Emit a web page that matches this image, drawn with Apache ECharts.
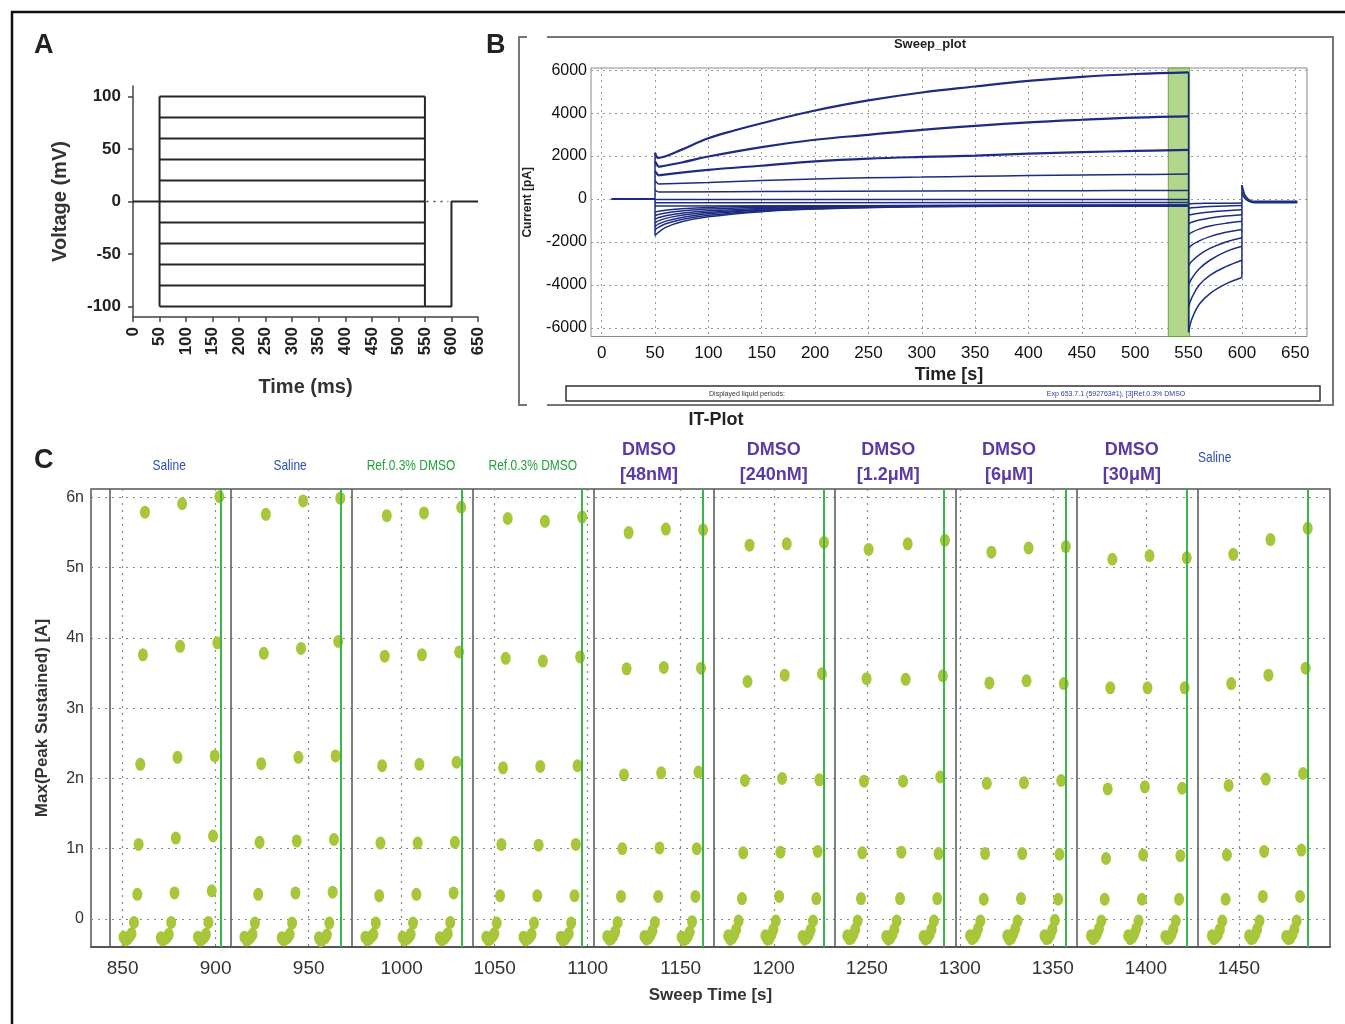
<!DOCTYPE html>
<html><head><meta charset="utf-8">
<script src="https://cdn.jsdelivr.net/npm/echarts@6/dist/echarts.min.js"></script>
<style>html,body{margin:0;padding:0;background:#fff;}#chart{width:1345px;height:1024px;}</style>
</head><body><div id="chart"></div>
<script>
// ================= DATA =================
// ---- Panel A: voltage protocol ----
const aLevels = [100, 80, 60, 40, 20, 0, -20, -40, -60, -80, -100];   // mV
const aPhaseTimes = [0, 50, 550, 600, 650];                           // hold, step on, step off, tail off, end (ms)
const aTailLevel = -100;
const aHoldLevel = 0;
const aXTicks = [0,50,100,150,200,250,300,350,400,450,500,550,600,650];
const aYTicks = [-100, -50, 0, 50, 100];

// ---- Panel B: sweep plot (time s, current pA) ----
const bXTicks = [0,50,100,150,200,250,300,350,400,450,500,550,600,650];
const bYTicks = [-6000,-4000,-2000,0,2000,4000,6000];
const bWashWindow = [531, 551];
const bBaseline = [[9,0],[50,0]];
const bStepP100 = [[50,2150],[52,1900],[60,1990],[75,2300],[100,2830],[125,3200],[150,3530],[200,4120],[250,4590],[300,4960],[350,5240],[400,5500],[450,5690],[500,5820],[550,5900]];
const bStepP80  = [[50,1750],[53,1500],[75,1700],[100,1980],[150,2420],[200,2760],[250,2990],[300,3220],[350,3410],[400,3570],[450,3690],[500,3790],[550,3850]];
const bStepP60  = [[50,1300],[53,1100],[100,1360],[150,1550],[200,1750],[250,1880],[300,1960],[350,2020],[400,2110],[450,2180],[500,2240],[550,2290]];
const bStepP40  = [[50,850],[53,700],[100,770],[150,860],[200,930],[250,990],[300,1020],[350,1060],[400,1090],[450,1120],[500,1140],[550,1160]];
const bStepP20  = [[50,400],[53,330],[150,350],[300,370],[450,390],[550,400]];
const bStep0    = [[50,-20],[550,-20]];
const bStepM20  = [[50,-170],[550,-160]];
const bStepN1   = [[50,-320],[550,-290]];
const bStepN2   = [[50,-620],[52,-576],[60,-520],[75,-450],[100,-390],[150,-340],[200,-320],[300,-300],[550,-290]];
const bStepN3   = [[50,-780],[52,-730],[60,-650],[75,-560],[100,-470],[150,-390],[200,-350],[300,-310],[550,-295]];
const bStepN4   = [[50,-950],[52,-886],[60,-780],[75,-660],[100,-550],[150,-440],[200,-380],[300,-320],[550,-300]];
const bStepN5   = [[50,-1110],[52,-1040],[60,-900],[75,-760],[100,-620],[150,-480],[200,-400],[300,-330],[550,-305]];
const bStepN6   = [[50,-1280],[52,-1195],[60,-1030],[75,-860],[100,-690],[150,-520],[200,-420],[300,-340],[550,-310]];
const bStepN7   = [[50,-1440],[52,-1350],[60,-1150],[75,-950],[100,-760],[150,-560],[200,-450],[300,-350],[550,-315]];
const bStepN8   = [[50,-1700],[52,-1600],[60,-1320],[75,-1060],[100,-830],[150,-590],[200,-470],[300,-360],[550,-320]];
const bTail1  = [[550,-6200],[553,-5600],[560,-4900],[570,-4400],[585,-3950],[600,-3650]];
const bTail2  = [[550,-5000],[553,-4600],[560,-4000],[570,-3550],[585,-3150],[600,-2850]];
const bTail3  = [[550,-4000],[553,-3700],[560,-3250],[570,-2850],[585,-2450],[600,-2200]];
const bTail4  = [[550,-3100],[553,-2900],[560,-2600],[570,-2300],[585,-2000],[600,-1800]];
const bTail5  = [[550,-2300],[553,-2150],[560,-1950],[570,-1750],[585,-1550],[600,-1420]];
const bTail6  = [[550,-1650],[553,-1550],[560,-1400],[570,-1260],[585,-1130],[600,-1040]];
const bTail7  = [[550,-1150],[553,-1080],[560,-980],[570,-880],[585,-790],[600,-730]];
const bTail8  = [[550,-760],[553,-720],[560,-660],[570,-600],[585,-540],[600,-500]];
const bTail9  = [[550,-430],[553,-410],[560,-380],[570,-350],[585,-320],[600,-300]];
const bTail10 = [[550,-220],[553,-215],[560,-205],[570,-200],[585,-195],[600,-190]];
const bPost1 = [[600,650],[601,420],[603,150],[606,-20],[610,-110],[630,-120],[652,-120]];
const bPost2 = [[600,300],[602,80],[606,-100],[612,-170],[652,-170]];

// ---- Panel C: IT plot (sweep time s, current nA) ----
const cXTicks = [850,900,950,1000,1050,1100,1150,1200,1250,1300,1350,1400,1450];
const cYTicks = [0,1,2,3,4,5,6];
const cSegmentBounds = [843,908,973,1038,1103,1168,1233,1298,1363,1428];
const cWashMarks = [902.5,967,1032.5,1097,1162,1227,1291.5,1357,1422,1487];
const cSegmentLabels = ['Saline','Saline','Ref.0.3% DMSO','Ref.0.3% DMSO','DMSO\n[48nM]','DMSO\n[240nM]','DMSO\n[1.2μM]','DMSO\n[6μM]','DMSO\n[30μM]','Saline'];
const cLabelTimes = [875,940,1005,1070.5,1133,1200,1261.5,1326.5,1392.5,1437];
const cSweepLevels = [-100,-80,-60,-40,-20,0,20,40,60,80,100];
const cSweepOffsets = [-11.5,-10.4,-9.3,-8.2,-7.2,-5.9,-4.1,-3.4,-2.5,-1.1,0];
const cGroupTimes = [862,882,902, 927,947,967, 992,1012,1032, 1057,1077,1097, 1122,1142,1162, 1187,1207,1227, 1251,1272,1292, 1317,1337,1357, 1382,1402,1422, 1447,1467,1487];
const cM100 = [-0.26,-0.27,-0.26, -0.26,-0.27,-0.27, -0.26,-0.26,-0.27, -0.26,-0.26,-0.26, -0.25,-0.25,-0.26, -0.24,-0.24,-0.25, -0.24,-0.25,-0.25, -0.24,-0.24,-0.24, -0.24,-0.24,-0.25, -0.24,-0.24,-0.25];
const cM80  = [-0.30,-0.30,-0.30, -0.30,-0.30,-0.31, -0.30,-0.30,-0.30, -0.30,-0.30,-0.30, -0.29,-0.29,-0.30, -0.29,-0.29,-0.29, -0.28,-0.29,-0.29, -0.28,-0.29,-0.28, -0.28,-0.28,-0.28, -0.28,-0.28,-0.28];
const cM60  = [-0.28,-0.28,-0.29, -0.29,-0.28,-0.29, -0.28,-0.28,-0.28, -0.28,-0.28,-0.29, -0.28,-0.27,-0.28, -0.27,-0.28,-0.27, -0.27,-0.27,-0.27, -0.26,-0.27,-0.27, -0.26,-0.26,-0.27, -0.26,-0.27,-0.27];
const cM40  = [-0.25,-0.26,-0.26, -0.26,-0.26,-0.27, -0.25,-0.26,-0.25, -0.25,-0.26,-0.25, -0.24,-0.23,-0.25, -0.22,-0.22,-0.23, -0.22,-0.22,-0.22, -0.21,-0.21,-0.22, -0.21,-0.21,-0.22, -0.22,-0.22,-0.22];
const cM20  = [-0.21,-0.22,-0.22, -0.22,-0.22,-0.23, -0.22,-0.22,-0.21, -0.21,-0.22,-0.21, -0.18,-0.17,-0.19, -0.15,-0.15,-0.16, -0.15,-0.15,-0.15, -0.14,-0.14,-0.15, -0.14,-0.14,-0.15, -0.15,-0.15,-0.15];
const c0    = [-0.05,-0.05,-0.05, -0.06,-0.06,-0.06, -0.06,-0.06,-0.05, -0.06,-0.06,-0.06, -0.05,-0.05,-0.04, -0.03,-0.03,-0.03, -0.03,-0.03,-0.03, -0.03,-0.03,-0.02, -0.03,-0.03,-0.03, -0.03,-0.03,-0.03];
const cP20  = [0.35,0.37,0.40, 0.35,0.37,0.38, 0.33,0.35,0.37, 0.33,0.33,0.33, 0.32,0.32,0.32, 0.29,0.32,0.29, 0.29,0.29,0.29, 0.28,0.29,0.28, 0.28,0.28,0.28, 0.28,0.32,0.32];
const cP40  = [1.06,1.15,1.18, 1.09,1.11,1.13, 1.08,1.08,1.09, 1.06,1.05,1.06, 1.00,1.01,1.00, 0.94,0.95,0.96, 0.94,0.95,0.93, 0.93,0.93,0.92, 0.86,0.91,0.90, 0.91,0.96,0.98];
const cP60  = [2.20,2.30,2.32, 2.21,2.30,2.32, 2.18,2.20,2.23, 2.15,2.17,2.18, 2.05,2.08,2.09, 1.97,2.00,1.98, 1.96,1.96,2.02, 1.93,1.94,1.97, 1.85,1.88,1.86, 1.90,1.99,2.07];
const cP80  = [3.76,3.88,3.93, 3.78,3.85,3.95, 3.74,3.76,3.80, 3.71,3.67,3.73, 3.56,3.58,3.57, 3.38,3.47,3.49, 3.42,3.41,3.46, 3.36,3.39,3.35, 3.29,3.29,3.29, 3.35,3.47,3.57];
const cP100 = [5.79,5.91,6.01, 5.76,5.95,5.99, 5.74,5.78,5.86, 5.70,5.66,5.72, 5.50,5.55,5.54, 5.32,5.34,5.36, 5.26,5.34,5.39, 5.22,5.28,5.30, 5.12,5.17,5.14, 5.19,5.40,5.56];

// ================= CHART =================
const FONT = '"Liberation Sans", Arial, Helvetica, sans-serif';
const NARROW = '"Liberation Sans Narrow", "Arial Narrow", "Liberation Sans", sans-serif';
const NAVY = '#1d2c82';
const plain = v => String(v);
const chart = echarts.init(document.getElementById('chart'));

function line(data, idx, color, width, extra) {
  return Object.assign({type:'line', xAxisIndex:idx, yAxisIndex:idx, data:data, symbol:'none', showSymbol:false,
    silent:true, animation:false, lineStyle:{color:color, width:width}, z:3}, extra || {});
}
const curve = {smooth:0.4};
const series = [];

// Panel A
const [tHold, tOn, tOff, tTail, tEnd] = aPhaseTimes;
const aMax = Math.max(...aLevels), aMin = Math.min(...aLevels);
aLevels.forEach(v => series.push(line([[tOn, v], [tOff, v]], 0, '#262626', 2)));
series.push(line([[tOn, aMin], [tOn, aMax]], 0, '#262626', 2));
series.push(line([[tOff, aMin], [tOff, aMax]], 0, '#262626', 2));
series.push(line([[tHold, aHoldLevel], [tOn, aHoldLevel]], 0, '#262626', 2));
series.push(line([[tOff, aTailLevel], [tTail, aTailLevel], [tTail, aHoldLevel], [tEnd, aHoldLevel]], 0, '#262626', 2));
series.push(line([[tOff + 3, aHoldLevel], [tTail - 6, aHoldLevel]], 0, '#444', 1.5, {lineStyle:{color:'#444', width:1.5, type:[2,5]}}));

// Panel B
const bSteps = [bStepP100,bStepP80,bStepP60,bStepP40,bStepP20,bStep0,bStepM20,bStepN1,bStepN2,bStepN3,bStepN4,bStepN5,bStepN6,bStepN7,bStepN8];
const bTails = [bTail1,bTail2,bTail3,bTail4,bTail5,bTail6,bTail7,bTail8,bTail9,bTail10];
series.push(line(bBaseline, 1, NAVY, 2, {markArea:{silent:true, itemStyle:{color:'#b2d68c', borderColor:'#62a845', borderWidth:1},
  data:[[{xAxis:bWashWindow[0]}, {xAxis:bWashWindow[1]}]]}, z:2}));
bSteps.forEach((d, i) => {
  // initial capacitive spike drawn straight, the slow relaxation drawn as a smooth curve
  series.push(line(d.slice(0, 2), 1, NAVY, i < 3 ? 2.2 : 1.5));
  series.push(line(d.slice(1), 1, NAVY, i < 3 ? 2.2 : 1.5, curve));
});
bTails.forEach(d => series.push(line(d, 1, NAVY, 1.5, curve)));
series.push(line(bPost1, 1, NAVY, 2, curve));
series.push(line(bPost2, 1, NAVY, 1.5, curve));
const onVals = bSteps.map(d => d[0][1]);
series.push(line([[bSteps[0][0][0], Math.min(...onVals)], [bSteps[0][0][0], Math.max(...onVals)]], 1, NAVY, 1.5));
const offVals = bSteps.map(d => d[d.length-1][1]).concat(bTails.map(d => d[0][1]));
series.push(line([[bTails[0][0][0], Math.min(...offVals)], [bTails[0][0][0], Math.max(...offVals)]], 1, NAVY, 1.5));
const endVals = bTails.map(d => d[d.length-1][1]).concat([bPost1[0][1]]);
series.push(line([[bPost1[0][0], Math.min(...endVals)], [bPost1[0][0], Math.max(...endVals)]], 1, NAVY, 1.5));

// Panel C
series.push({type:'line', xAxisIndex:2, yAxisIndex:2, data:[], silent:true, z:2,
  markLine:{silent:true, symbol:['none','none'], label:{show:false}, animation:false,
    lineStyle:{color:'#555', width:1.5, type:'solid'}, data: cSegmentBounds.map(x => ({xAxis:x}))}});
series.push({type:'line', xAxisIndex:2, yAxisIndex:2, data:[], silent:true, z:2,
  markLine:{silent:true, symbol:['none','none'], label:{show:false}, animation:false,
    lineStyle:{color:'#3cb54a', width:2, type:'solid'}, data: cWashMarks.map(x => ({xAxis:x}))}});
const cValues = [cM100,cM80,cM60,cM40,cM20,c0,cP20,cP40,cP60,cP80,cP100];
cValues.forEach((vals, k) => {
  series.push({type:'scatter', xAxisIndex:2, yAxisIndex:2, silent:true, animation:false, z:4,
    symbol:'circle', symbolSize:[10,13], itemStyle:{color:'#a8c63a', opacity:1},
    data: vals.map((v, g) => [cGroupTimes[g] + cSweepOffsets[k], v])});
});

const option = {
  animation:false,
  backgroundColor:'#fff',
  textStyle:{fontFamily:FONT},
  grid:[
    {left:133, right:867, top:86, bottom:707},
    {left:591, right:38, top:68, bottom:687.5, show:true, borderColor:'#8a8a8a', borderWidth:1, backgroundColor:'#fff'},
    {left:91, right:15, top:489, bottom:77, show:true, borderColor:'#555', borderWidth:1.5, backgroundColor:'#fff'}
  ],
  xAxis:[
    {gridIndex:0, type:'value', min:0, max:650, interval:50,
      name:'Time (ms)', nameLocation:'middle', nameGap:60, nameTextStyle:{fontSize:20, fontWeight:'bold', color:'#333'},
      axisLine:{onZero:false, lineStyle:{color:'#444', width:1.5}},
      axisTick:{show:true, inside:false, length:5, lineStyle:{color:'#444', width:1.5}},
      axisLabel:{rotate:90, fontSize:17, fontWeight:'bold', color:'#222', margin:10, formatter:plain},
      splitLine:{show:false}},
    {gridIndex:1, type:'value', min:-10, max:661,
      name:'Time [s]', nameLocation:'middle', nameGap:30, nameTextStyle:{fontSize:18, fontWeight:'bold', color:'#222'},
      axisLine:{onZero:false, show:false},
      axisTick:{show:false, customValues:bXTicks},
      axisLabel:{fontSize:17, color:'#111', margin:8, customValues:bXTicks, formatter:plain},
      splitLine:{show:true, lineStyle:{color:'#9a9a9a', type:[2,4], width:1}}},
    {gridIndex:2, type:'value', min:833, max:1499,
      name:'Sweep Time [s]', nameLocation:'middle', nameGap:40, nameTextStyle:{fontSize:17, fontWeight:'bold', color:'#333'},
      axisLine:{onZero:false, show:true, lineStyle:{color:'#555', width:2}},
      axisTick:{show:false, customValues:cXTicks},
      axisLabel:{fontSize:19, color:'#333', margin:12, customValues:cXTicks, formatter:plain},
      splitLine:{show:true, lineStyle:{color:'#888', type:[2,5], width:1.2}}}
  ],
  yAxis:[
    {gridIndex:0, type:'value', min:-110, max:110,
      name:'Voltage (mV)', nameLocation:'middle', nameGap:63, nameTextStyle:{fontSize:20, fontWeight:'bold', color:'#333'},
      axisLine:{show:true, onZero:false, lineStyle:{color:'#444', width:1.5}},
      axisTick:{show:true, length:5, customValues:aYTicks, lineStyle:{color:'#444', width:1.5}},
      axisLabel:{fontSize:17, fontWeight:'bold', color:'#222', margin:12, customValues:aYTicks, formatter:plain},
      splitLine:{show:false}},
    {gridIndex:1, type:'value', min:-6400, max:6100,
      name:'Current [pA]', nameLocation:'middle', nameGap:57, nameTextStyle:{fontSize:12, fontWeight:'bold', color:'#222'},
      axisLine:{show:false, onZero:false},
      axisTick:{show:false, customValues:bYTicks},
      axisLabel:{fontSize:16, color:'#111', margin:4, customValues:bYTicks, formatter:plain},
      splitLine:{show:true, lineStyle:{color:'#9a9a9a', type:[2,4], width:1}}},
    {gridIndex:2, type:'value', min:-0.4, max:6.12,
      name:'Max(Peak Sustained) [A]', nameLocation:'middle', nameGap:40, nameTextStyle:{fontSize:17, fontWeight:'bold', color:'#333'},
      axisLine:{show:false, onZero:false},
      axisTick:{show:false, customValues:cYTicks},
      axisLabel:{fontSize:16, color:'#333', margin:7, fontFamily:NARROW, customValues:cYTicks,
        formatter: v => v === 0 ? '0' : v + 'n'},
      splitLine:{show:true, lineStyle:{color:'#888', type:[2,5], width:1.2}}}
  ],
  series: series
};
chart.setOption(option);

// ---- decorations / annotation text ----
const graphics = [
  {type:'polyline', shape:{points:[[12,1024],[12,12],[1345,12]]}, style:{stroke:'#111', lineWidth:2.5, fill:null}, silent:true},
  {type:'text', x:34, y:32, style:{text:'A', font:'bold 27px ' + FONT, fill:'#222'}},
  {type:'text', x:486, y:32, style:{text:'B', font:'bold 27px ' + FONT, fill:'#222'}},
  {type:'text', x:34, y:447, style:{text:'C', font:'bold 27px ' + FONT, fill:'#222'}},
  {type:'polyline', shape:{points:[[527,37],[519,37],[519,405],[527,405]]}, style:{stroke:'#777', lineWidth:2, fill:null}, silent:true},
  {type:'polyline', shape:{points:[[547,37],[1333,37],[1333,405],[547,405]]}, style:{stroke:'#777', lineWidth:2, fill:null}, silent:true},
  {type:'text', x:930, y:44, style:{text:'Sweep_plot', font:'bold 13px ' + FONT, fill:'#222', align:'center', verticalAlign:'middle'}},
  {type:'rect', shape:{x:566, y:386, width:754, height:15}, style:{stroke:'#333', lineWidth:1.5, fill:'#fff'}, silent:true},
  {type:'text', x:747, y:394, style:{text:'Displayed liquid periods:', font:'7px ' + FONT, fill:'#333', align:'center', verticalAlign:'middle'}},
  {type:'text', x:1116, y:394, style:{text:'Exp 653.7.1 (592763#1), [3]Ref.0.3% DMSO', font:'7px ' + FONT, fill:'#2a3fa0', align:'center', verticalAlign:'middle'}},
  {type:'text', x:716, y:420, style:{text:'IT-Plot', font:'bold 18px ' + FONT, fill:'#222', align:'center', verticalAlign:'middle'}}
];
cSegmentLabels.forEach((lab, i) => {
  const px = chart.convertToPixel({xAxisIndex:2, yAxisIndex:2}, [cLabelTimes[i], 0])[0];
  if (lab.indexOf('DMSO\n') === 0) {
    graphics.push({type:'text', x:px, y:463, style:{text:lab, font:'bold 18px ' + FONT, fill:'#5a3aa6', align:'center', verticalAlign:'middle', lineHeight:25}});
  } else {
    const isRef = lab.indexOf('Ref') === 0;
    graphics.push({type:'text', x:px, y:(i === cSegmentLabels.length - 1 ? 458 : 466), scaleX:0.8,
      style:{text:lab, font:'15px ' + FONT, fill:isRef ? '#22a33c' : '#2d4fb5', align:'center', verticalAlign:'middle'}});
  }
});
chart.setOption({graphic:graphics});
</script>
</body></html>
